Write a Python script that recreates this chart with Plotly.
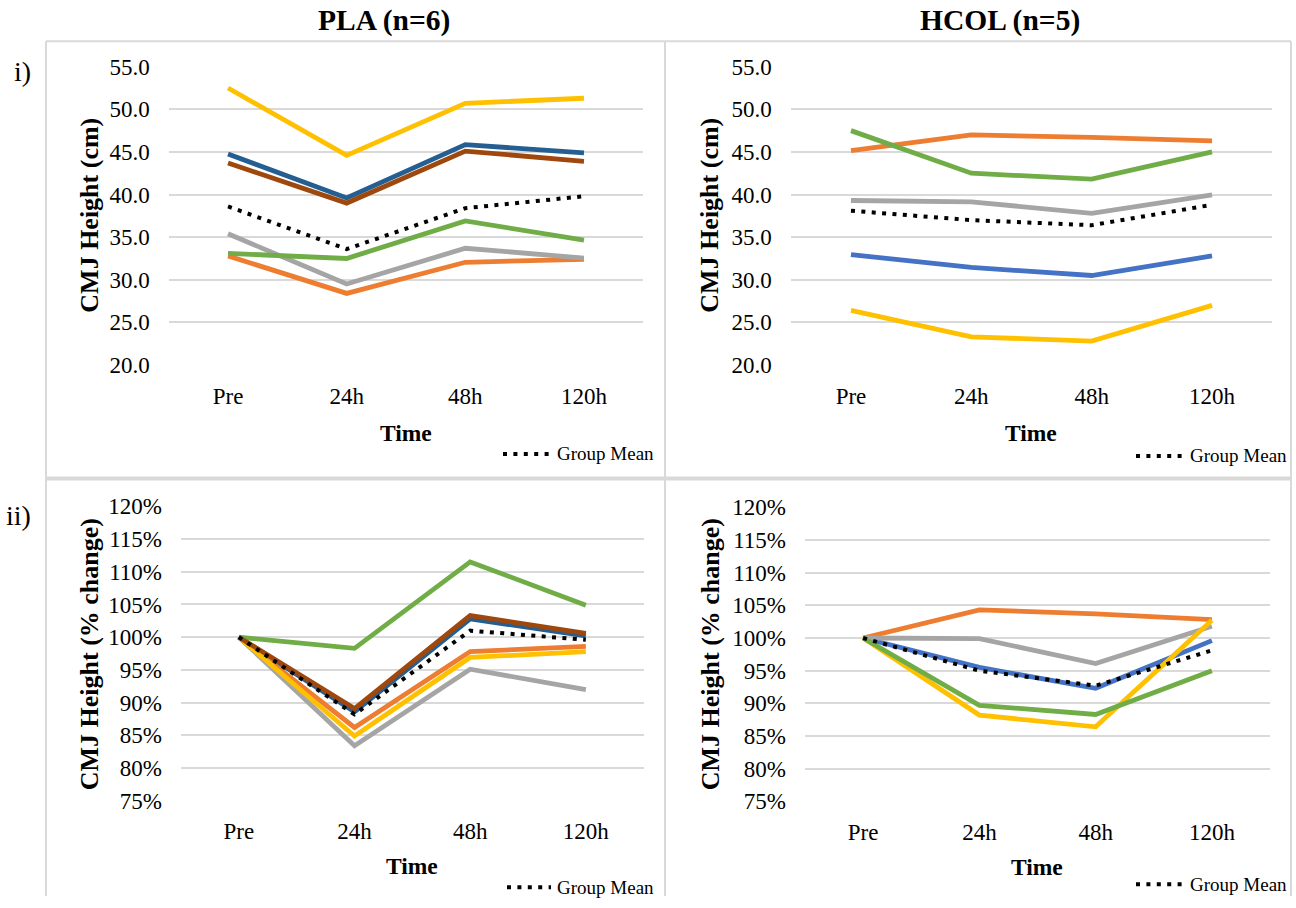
import plotly.graph_objects as go

W, H = 1296, 908

# Time points
time_points = ["Pre", "24h", "48h", "120h"]

# PLA group: CMJ height (cm) per participant
pla_p1 = [44.75, 39.6, 45.85, 44.9]
pla_p2 = [32.8, 28.4, 32.05, 32.4]
pla_p3 = [35.4, 29.5, 33.7, 32.55]
pla_p4 = [52.5, 44.6, 50.7, 51.3]
pla_p5 = [33.1, 32.5, 36.9, 34.65]
pla_p6 = [43.7, 39.0, 45.1, 43.9]
pla_mean = [38.6, 33.6, 38.4, 39.8]

# HCOL group: CMJ height (cm) per participant
hcol_p1 = [32.95, 31.45, 30.5, 32.8]
hcol_p2 = [45.15, 47.0, 46.7, 46.3]
hcol_p3 = [39.3, 39.15, 37.8, 39.95]
hcol_p4 = [26.4, 23.3, 22.8, 27.0]
hcol_p5 = [47.5, 42.5, 41.8, 45.0]
hcol_mean = [38.1, 37.0, 36.4, 38.8]

# PLA group: % of Pre
pla_pct_p1 = [100, 88.6, 102.8, 100.2]
pla_pct_p2 = [100, 86.2, 97.8, 98.6]
pla_pct_p3 = [100, 83.4, 95.1, 92.0]
pla_pct_p4 = [100, 84.9, 96.9, 97.8]
pla_pct_p5 = [100, 98.3, 111.5, 104.9]
pla_pct_p6 = [100, 89.1, 103.3, 100.6]
pla_pct_mean = [100, 88.2, 101.0, 99.6]

# HCOL group: % of Pre
hcol_pct_p1 = [100, 95.5, 92.3, 99.6]
hcol_pct_p2 = [100, 104.3, 103.7, 102.8]
hcol_pct_p3 = [100, 99.9, 96.1, 101.8]
hcol_pct_p4 = [100, 88.2, 86.4, 102.7]
hcol_pct_p5 = [100, 89.7, 88.3, 95.0]
hcol_pct_mean = [100, 95.0, 92.7, 98.1]

raw_ticks = [20, 25, 30, 35, 40, 45, 50, 55]
pct_ticks = [75, 80, 85, 90, 95, 100, 105, 110, 115, 120]

DARK_BLUE = "#255E91"
BLUE = "#4472C4"
ORANGE = "#ED7D31"
GRAY = "#A5A5A5"
YELLOW = "#FFC000"
GREEN = "#70AD47"
BROWN = "#9E480E"
GRID = "#D9D9D9"
FONT = "Liberation Serif"

LW = 4.8
DOT = "4px,6.4px"


def px_x(p):
    return p / W


def px_y(p):
    return 1 - p / H


fig = go.Figure()

panels = [
    # (axis suffix, x px domain, y px domain (top, bottom), y range, series, colors, mean)
    ("", (168.7, 643.3), (56.28, 364.07), (19.9, 55.1),
     [pla_p1, pla_p2, pla_p3, pla_p4, pla_p5, pla_p6],
     [DARK_BLUE, ORANGE, GRAY, YELLOW, GREEN, BROWN], pla_mean),
    ("2", (790.8, 1272.2), (56.28, 364.07), (19.9, 55.1),
     [hcol_p1, hcol_p2, hcol_p3, hcol_p4, hcol_p5],
     [BLUE, ORANGE, GRAY, YELLOW, GREEN], hcol_mean),
    ("3", (181.0, 643.7), (507.53, 810.97), (74.9, 120.1),
     [pla_pct_p1, pla_pct_p2, pla_pct_p3, pla_pct_p4, pla_pct_p5, pla_pct_p6],
     [DARK_BLUE, ORANGE, GRAY, YELLOW, GREEN, BROWN], pla_pct_mean),
    ("4", (805.0, 1270.0), (508.53, 811.57), (74.9, 120.1),
     [hcol_pct_p1, hcol_pct_p2, hcol_pct_p3, hcol_pct_p4, hcol_pct_p5],
     [BLUE, ORANGE, GRAY, YELLOW, GREEN], hcol_pct_mean),
]

layout_axes = {}
for i, (sfx, xd, yd, yr, series, colors, mean) in enumerate(panels):
    xa, ya = "x" + sfx, "y" + sfx
    for vals, col in zip(series, colors):
        fig.add_trace(go.Scatter(
            x=time_points, y=vals, xaxis=xa, yaxis=ya, mode="lines",
            line=dict(color=col, width=LW), showlegend=False, hoverinfo="skip",
        ))
    fig.add_trace(go.Scatter(
        x=time_points, y=mean, xaxis=xa, yaxis=ya, mode="lines", name="Group Mean",
        line=dict(color="black", width=4, dash=DOT), showlegend=False,
    ))
    pct = i >= 2
    layout_axes["xaxis" + sfx] = dict(
        domain=[px_x(xd[0]), px_x(xd[1])], anchor=ya, type="category",
        range=[-0.5, 3.5], showgrid=False, zeroline=False, showline=False,
        ticks="", ticklabelstandoff=14,
        tickfont=dict(family=FONT, size=23, color="black"),
    )
    layout_axes["yaxis" + sfx] = dict(
        domain=[px_y(yd[1]), px_y(yd[0])], anchor=xa, range=list(yr),
        tickmode="array",
        tickvals=pct_ticks if pct else raw_ticks,
        ticktext=[f"{v}%" for v in pct_ticks] if pct else [f"{v:.1f}" for v in raw_ticks],
        showgrid=True, gridcolor=GRID, gridwidth=2, zeroline=False, showline=False,
        ticks="", ticklabelstandoff=18,
        tickfont=dict(family=FONT, size=23, color="black"),
    )

annotations = []


def text(x, y, s, size, bold=False, angle=0, xanchor="center"):
    annotations.append(dict(
        xref="paper", yref="paper", x=px_x(x), y=px_y(y), text=f"<b>{s}</b>" if bold else s,
        showarrow=False, xanchor=xanchor, yanchor="middle", textangle=angle,
        font=dict(family=FONT, size=size, color="black"),
    ))


# group titles and row labels
text(384, 10, "PLA (n=6)", 29.5, bold=True)
text(1000, 10, "HCOL (n=5)", 29.5, bold=True)
text(22, 62, "i)", 28)
text(18, 518, "ii)", 28)

# axis titles
text(90, 210, "CMJ Height (cm)", 26, bold=True, angle=-90)
text(710, 210, "CMJ Height (cm)", 26, bold=True, angle=-90)
text(89, 660, "CMJ Height (% change)", 26, bold=True, angle=-90)
text(710, 660, "CMJ Height (% change)", 26, bold=True, angle=-90)
text(406, 433, "Time", 23.5, bold=True)
text(1031, 433, "Time", 23.5, bold=True)
text(412, 877, "Time", 23.5, bold=True)
text(1037, 878, "Time", 23.5, bold=True)

shapes = []
# legend entries for the group mean
for (x0, x1, y) in [(503, 551, 454.5), (1136, 1184, 456.5), (507, 551, 899), (1136, 1184, 896)]:
    shapes.append(dict(type="line", xref="paper", yref="paper",
                       x0=px_x(x0), x1=px_x(x1), y0=px_y(y), y1=px_y(y),
                       line=dict(color="black", width=4, dash=DOT)))
    text(x1 + 4, y, "Group Mean", 19, xanchor="left")

# panel frames
for (x0, y0, x1, y1, w) in [
    (46, 31, 1291, 31, 2),
    (46, 31, 46, 908, 2),
    (665, 31, 665, 908, 2),
    (1291, 31, 1291, 908, 2),
    (46, 479.7, 1291, 479.7, 4),
]:
    shapes.append(dict(type="line", xref="paper", yref="paper",
                       x0=px_x(x0), x1=px_x(x1), y0=px_y(y0), y1=px_y(y1),
                       line=dict(color=GRID, width=w)))

fig.update_layout(
    width=W, height=H, autosize=False,
    margin=dict(l=0, r=0, t=0, b=0, pad=0),
    paper_bgcolor="white", plot_bgcolor="white",
    showlegend=False, annotations=annotations, shapes=shapes,
    **layout_axes,
)

fig.write_html("out.html")
